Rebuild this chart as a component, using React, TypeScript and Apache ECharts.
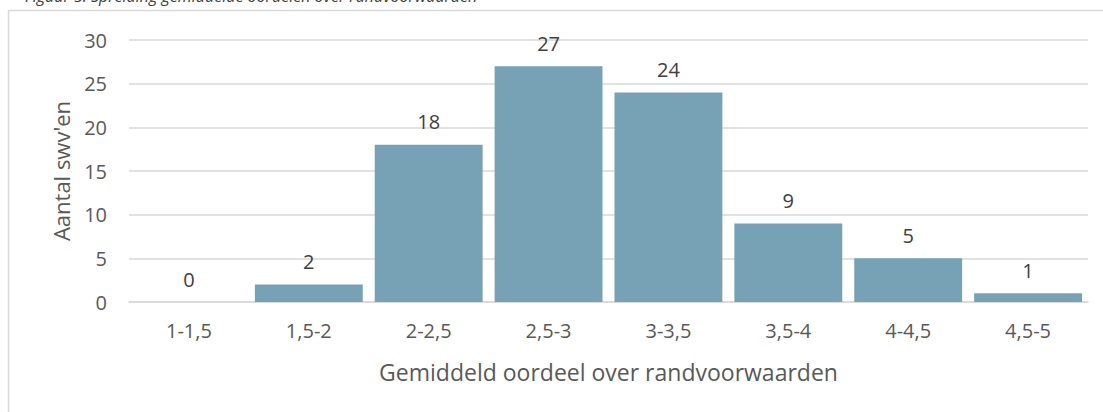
import React, { useEffect, useRef } from "react";
import * as echarts from "echarts";

const categories = ["1-1,5", "1,5-2", "2-2,5", "2,5-3", "3-3,5", "3,5-4", "4-4,5", "4,5-5"];
const counts = [0, 2, 18, 27, 24, 9, 5, 1];
const yTitle = "Aantal swv'en";
const xTitle = "Gemiddeld oordeel over randvoorwaarden";
const figTitle = "Figuur 5. Spreiding gemiddelde oordelen over randvoorwaarden";

export default function App() {
  const ref = useRef<HTMLDivElement>(null);
  useEffect(() => {
    if (!ref.current) return;
    const chart = echarts.init(ref.current, undefined, { renderer: "svg" });
    const font = "'Open Sans', 'Liberation Sans', sans-serif";
    chart.setOption({
      animation: false,
      backgroundColor: "#ffffff",
      textStyle: { fontFamily: font },
      grid: { left: 129, right: 15, top: 40, bottom: 110, containLabel: false },
      graphic: [
        {
          type: "rect",
          shape: { x: 8.5, y: 10.5, width: 1120, height: 500 },
          style: { fill: "none", stroke: "#d9d9d9", lineWidth: 1.5 },
          silent: true,
        },
        {
          type: "text",
          x: 25,
          y: -12,
          style: {
            text: figTitle,
            fontFamily: font,
            fontStyle: "italic",
            fontSize: 16,
            fill: "#404040",
          },
          silent: true,
        },
      ],
      xAxis: {
        type: "category",
        data: categories,
        axisLine: { lineStyle: { color: "#d9d9d9", width: 1.5 } },
        axisTick: { show: false },
        axisLabel: { color: "#595959", fontSize: 20, margin: 18, fontFamily: font },
        name: xTitle,
        nameLocation: "middle",
        nameGap: 58,
        nameTextStyle: { color: "#595959", fontSize: 23, fontFamily: font },
      },
      yAxis: {
        type: "value",
        min: 0,
        max: 30,
        interval: 5,
        axisLine: { show: false },
        axisTick: { show: false },
        splitLine: { lineStyle: { color: "#d9d9d9", width: 1.5 } },
        axisLabel: { color: "#595959", fontSize: 20, margin: 22, fontFamily: font },
        name: yTitle,
        nameLocation: "middle",
        nameGap: 57,
        nameRotate: 90,
        nameTextStyle: { color: "#595959", fontSize: 22, fontFamily: font },
      },
      series: [
        {
          type: "bar",
          data: counts,
          barCategoryGap: "10%",
          itemStyle: { color: "#77a2b5" },
          label: {
            show: true,
            position: "top",
            distance: 13,
            color: "#404040",
            fontSize: 20,
            fontFamily: font,
          },
        },
      ],
    });
    return () => chart.dispose();
  }, []);
  return (
    <div
      ref={ref}
      style={{ position: "fixed", left: 0, top: 0, width: 1103, height: 412 }}
    />
  );
}
